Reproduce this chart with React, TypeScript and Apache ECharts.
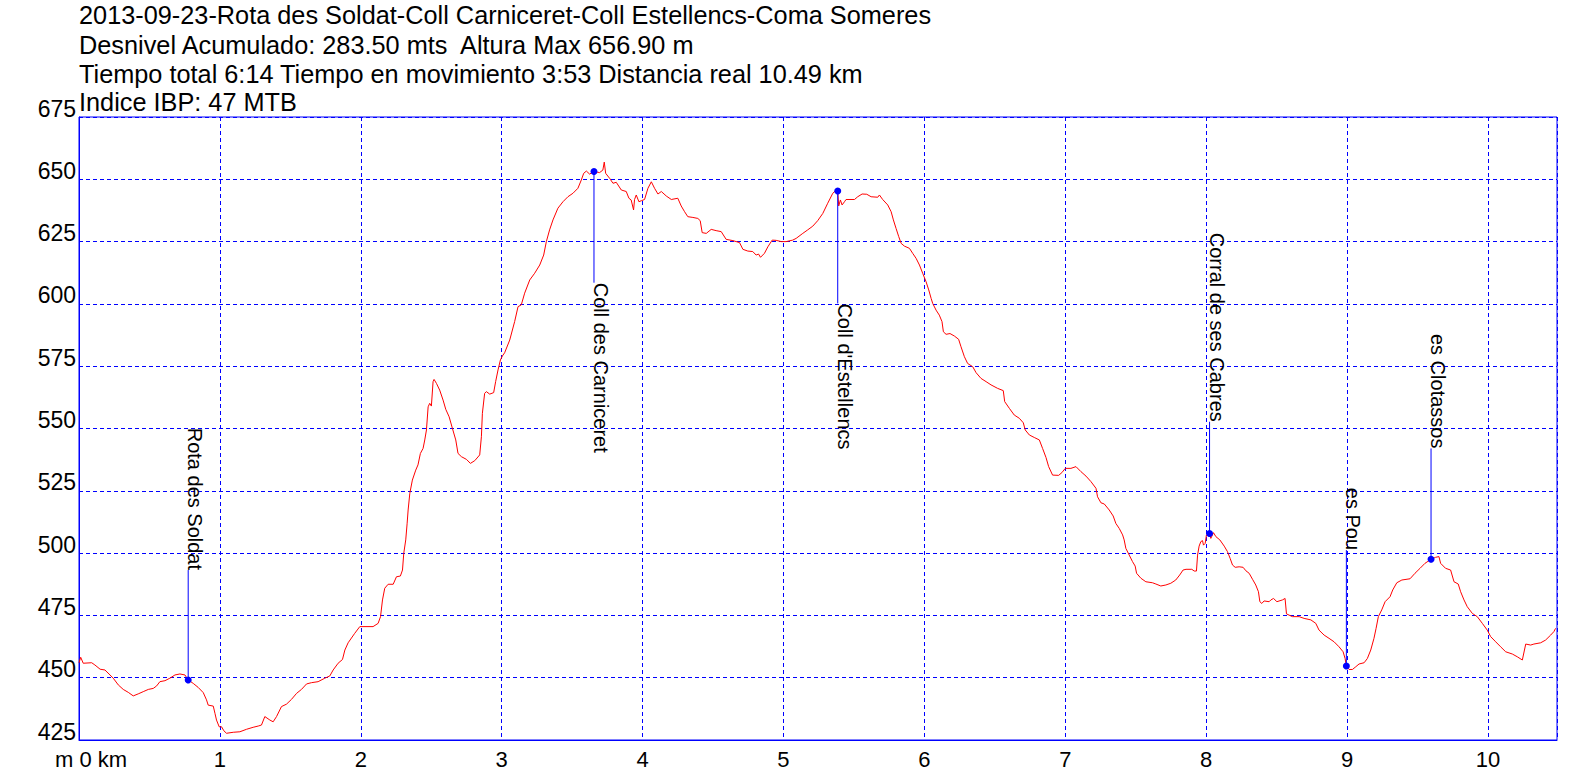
import React, { useEffect, useRef } from "react";
import * as echarts from "echarts";

const FONT = "'Liberation Sans', Arial, sans-serif";

const titleLines = [
  "2013-09-23-Rota des Soldat-Coll Carniceret-Coll Estellencs-Coma Someres",
  "Desnivel Acumulado: 283.50 mts  Altura Max 656.90 m",
  "Tiempo total 6:14 Tiempo en movimiento 3:53 Distancia real 10.49 km",
  "Indice IBP: 47 MTB",
];

// distance (km)
const distKm = [
  0, 0.012, 0.03, 0.09, 0.113, 0.15, 0.184, 0.22, 0.243, 0.279, 0.314, 0.35, 0.385, 0.42, 0.456, 0.492, 0.527, 0.551, 0.574, 0.61,
  0.645, 0.681, 0.716, 0.752, 0.775, 0.811, 0.846, 0.882, 0.905, 0.917, 0.953, 0.965, 0.976, 0.995, 1.012, 1.028, 1.047, 1.095, 1.142, 1.189,
  1.236, 1.272, 1.295, 1.319, 1.355, 1.378, 1.402, 1.437, 1.473, 1.508, 1.544, 1.579, 1.615, 1.65, 1.697, 1.745, 1.78, 1.804, 1.839, 1.87,
  1.887, 1.91, 1.957, 1.993, 2.087, 2.123, 2.14, 2.154, 2.17, 2.194, 2.23, 2.253, 2.281, 2.296, 2.305, 2.319, 2.329, 2.336, 2.348, 2.366,
  2.39, 2.406, 2.423, 2.442, 2.454, 2.466, 2.478, 2.489, 2.501, 2.513, 2.52, 2.537, 2.56, 2.584, 2.603, 2.627, 2.65, 2.674, 2.69, 2.714,
  2.75, 2.778, 2.809, 2.844, 2.856, 2.863, 2.879, 2.891, 2.915, 2.943, 2.957, 2.974, 2.991, 3.005, 3.021, 3.057, 3.092, 3.116, 3.139, 3.163,
  3.199, 3.234, 3.27, 3.298, 3.317, 3.34, 3.364, 3.399, 3.435, 3.47, 3.506, 3.541, 3.565, 3.582, 3.601, 3.624, 3.655, 3.695, 3.718, 3.728,
  3.738, 3.766, 3.79, 3.813, 3.849, 3.884, 3.903, 3.919, 3.936, 3.943, 3.955, 3.974, 3.991, 4.014, 4.038, 4.062, 4.085, 4.109, 4.133, 4.168,
  4.204, 4.25, 4.274, 4.298, 4.321, 4.357, 4.392, 4.409, 4.423, 4.452, 4.487, 4.522, 4.558, 4.593, 4.641, 4.688, 4.712, 4.747, 4.782, 4.806,
  4.823, 4.837, 4.865, 4.889, 4.92, 4.948, 4.984, 5.019, 5.066, 5.09, 5.137, 5.172, 5.208, 5.243, 5.279, 5.314, 5.35, 5.369, 5.385, 5.392,
  5.404, 5.416, 5.433, 5.444, 5.504, 5.527, 5.558, 5.591, 5.622, 5.669, 5.681, 5.704, 5.74, 5.764, 5.78, 5.799, 5.818, 5.835, 5.858, 5.894,
  5.917, 5.941, 5.965, 5.988, 6.012, 6.031, 6.048, 6.059, 6.083, 6.106, 6.125, 6.135, 6.154, 6.182, 6.213, 6.243, 6.26, 6.284, 6.307, 6.343,
  6.367, 6.402, 6.438, 6.473, 6.52, 6.56, 6.57, 6.603, 6.638, 6.674, 6.702, 6.716, 6.745, 6.78, 6.816, 6.839, 6.863, 6.882, 6.91, 6.953,
  6.976, 7.0, 7.04, 7.076, 7.111, 7.147, 7.182, 7.218, 7.229, 7.253, 7.277, 7.312, 7.34, 7.359, 7.383, 7.407, 7.418, 7.43, 7.454, 7.477,
  7.496, 7.506, 7.537, 7.572, 7.619, 7.643, 7.678, 7.714, 7.749, 7.784, 7.812, 7.836, 7.857, 7.898, 7.915, 7.931, 7.939, 7.95, 7.962, 7.974,
  7.981, 7.993, 8.002, 8.024, 8.033, 8.052, 8.069, 8.097, 8.128, 8.151, 8.17, 8.187, 8.206, 8.234, 8.262, 8.282, 8.305, 8.329, 8.352, 8.371,
  8.381, 8.395, 8.411, 8.447, 8.459, 8.478, 8.502, 8.541, 8.56, 8.57, 8.612, 8.66, 8.695, 8.743, 8.778, 8.801, 8.837, 8.872, 8.908, 8.943,
  8.972, 8.986, 8.995, 9.014, 9.038, 9.062, 9.085, 9.121, 9.144, 9.168, 9.191, 9.206, 9.222, 9.246, 9.27, 9.305, 9.324, 9.353, 9.389, 9.447,
  9.482, 9.518, 9.553, 9.596, 9.628, 9.652, 9.664, 9.699, 9.735, 9.759, 9.789, 9.806, 9.83, 9.853, 9.889, 9.924, 9.96, 9.995, 10.019, 10.055,
  10.09, 10.126, 10.173, 10.208, 10.244, 10.268, 10.303, 10.326, 10.374, 10.409, 10.445, 10.468, 10.48,
];

// altitude (m)
const altitudeM = [
  456, 458.2, 455.8, 456, 455.1, 453.4, 453.1, 451.1, 449.8, 447.1, 445.3, 444.1, 442.7, 443.5, 444.4, 445.3, 445.7, 446.7, 448.4, 448.8,
  449.8, 451.1, 451.5, 451.1, 449.1, 447.7, 446.1, 444, 441.1, 439, 438.6, 435.7, 433, 430.3, 430.3, 428.7, 427.7, 428.1, 428.3, 429.3,
  430.1, 430.6, 431, 434.4, 433, 432.3, 434.4, 438.4, 439.4, 441.3, 443.7, 445.3, 447.5, 448, 448.4, 449.8, 450.7, 453.1, 455.8, 457.3,
  461.1, 464, 467.8, 470.5, 470.5, 471.8, 474.5, 481.2, 485.9, 487.5, 487.5, 490.5, 490.8, 493.2, 499.9, 505.3, 512, 517.3, 524, 529.3,
  533.3, 535.4, 540, 542, 545.4, 549.4, 558.7, 560.1, 559, 568.8, 569.7, 568.1, 565.4, 561.4, 557.7, 554.7, 550.1, 545.4, 540, 538.7,
  537.6, 536, 537.1, 539.4, 546.7, 556.1, 564.1, 564.8, 563.8, 564.4, 568.8, 573.5, 577.5, 579.1, 580.4, 585.5, 592.9, 598.9, 599.6, 604.3,
  609.6, 612.3, 615.6, 619.6, 625, 629.7, 633.7, 638.4, 641, 643, 644.4, 646.4, 649.7, 652.4, 653.3, 652.1, 653.1, 652.7, 653.7, 656.9,
  652.4, 650.4, 648.4, 648.8, 645.7, 645.1, 642.4, 641.7, 637.7, 641.9, 643.7, 641, 641.4, 641.9, 646.4, 649, 646.4, 644.1, 645.1, 643.3,
  641.9, 642.4, 639.3, 637, 635, 634.7, 634.3, 633.4, 628.6, 628.3, 629.9, 629.4, 629, 625.9, 625.4, 624.6, 621.9, 621.2, 621, 619.6,
  620, 618.7, 620.3, 622.9, 625.6, 625.5, 625, 625, 625.6, 626.3, 628.3, 629.7, 631.2, 633.4, 636.3, 640.4, 644.4, 645.4, 645.3, 639.3,
  641.7, 639.7, 641, 641.9, 641.9, 643, 644.1, 644, 643, 642.8, 643.7, 641.9, 639.7, 637, 633.7, 630.3, 627, 624.3, 623.2, 622.3,
  620.3, 618.3, 615.6, 612.3, 608.9, 605.6, 602.2, 600.2, 597.5, 595.5, 592.9, 588.8, 587.8, 588.1, 587.1, 585.8, 582.8, 578.8, 576.1, 574.8,
  572.4, 570.1, 568.8, 567.5, 566.1, 565.2, 560.8, 558.1, 555.4, 554.1, 552.3, 549.4, 547.4, 546.4, 545.4, 542, 538.4, 534.7, 531.3, 531.2,
  532.3, 534, 534, 534.7, 532.7, 530.9, 528.7, 526, 522.6, 520.2, 519.7, 517.3, 514.9, 511.9, 509.9, 507.3, 505.3, 501.9, 499.2, 496.6,
  494.8, 491.9, 489.9, 488.5, 488.1, 487.6, 486.8, 487.2, 487.9, 489.2, 491.2, 493.2, 493.5, 493.5, 492.8, 492.8, 499.2, 502.8, 504.6, 505,
  503.2, 503.9, 507.3, 507.9, 505.9, 508.2, 506.6, 505.3, 502.8, 500.6, 497.9, 495.2, 494.3, 494.5, 494.3, 492.9, 491.9, 489.5, 487.2, 484.5,
  480.5, 479.8, 480.8, 480.5, 481.2, 481.8, 480.5, 481.2, 481.8, 475.6, 474.5, 474.5, 473.8, 473.2, 471.8, 469.1, 467.1, 465.8, 464.4, 462.4,
  460.4, 457.7, 454.7, 453.3, 453.3, 454.4, 455.5, 456, 457.7, 461.1, 465.8, 469.8, 474.5, 477.2, 480.5, 482.5, 485.2, 488.1, 489.2, 489.7,
  491.9, 493.9, 495.9, 497.5, 498.3, 498.6, 495.9, 493.9, 493.2, 488.5, 487.6, 484.5, 481.2, 478.5, 475.8, 474.5, 471.8, 469.1, 466.5, 464.4,
  462.4, 460.4, 459.5, 458.4, 457.1, 463.5, 463.1, 463.5, 464, 465.1, 467.1, 468.5, 469.8,
];

// waypoints
const wpNames = ["Rota des Soldat", "Coll des Carniceret", "Coll d'Estellencs", "Corral de ses Cabres", "es Pou", "es Clotassos"];
const wpKm = [0.775, 3.655, 5.385, 8.024, 8.995, 9.596];
const wpAlt = [449.1, 653.1, 645.3, 507.9, 454.7, 497.5];
const wpLabelAlt = [493.2, 608.5, 600.2, 552.7, 501.2, 542];

const yTicks = { min: 425, max: 675, interval: 25 };
const xTicks = { min: 0, max: 10.49, interval: 1 };
const originLabel = "m 0 km";

export default function App() {
  const ref = useRef<HTMLDivElement>(null);

  useEffect(() => {
    if (!ref.current) return;
    const chart = echarts.init(ref.current, null, { renderer: "svg" });
    const blue = "#0000ff";

    const option: any = {
      animation: false,
      backgroundColor: "#ffffff",
      textStyle: { fontFamily: FONT },
      grid: {
        left: 79,
        top: 117,
        right: 39,
        bottom: 38,
        show: true,
        borderColor: blue,
        borderWidth: 1,
        backgroundColor: "transparent",
      },
      graphic: [
        ...titleLines.map((t, i) => ({
          type: "text",
          x: 79,
          y: [15.3, 44.8, 74.3, 101.8][i],
          style: { text: t, fontSize: 25.3, fontFamily: FONT, fill: "#000", align: "left", verticalAlign: "middle" },
          z: 10,
        })),
        {
          type: "text",
          x: 55,
          y: 759.5,
          style: { text: originLabel, fontSize: 22, fontFamily: FONT, fill: "#000", align: "left", verticalAlign: "middle" },
          z: 10,
        },
      ],
      xAxis: {
        type: "value",
        min: xTicks.min,
        max: xTicks.max,
        interval: xTicks.interval,
        axisLine: { show: true, lineStyle: { color: blue, width: 1 } },
        axisTick: { show: false },
        axisLabel: {
          color: "#000",
          fontSize: 22,
          fontFamily: FONT,
          margin: 8,
          lineHeight: 22,
          showMaxLabel: false,
          formatter: (v: number) =>
            v > 0.5 && Math.abs(v - Math.round(v)) < 1e-6 ? String(Math.round(v)) : "",
        },
        splitLine: { show: true, lineStyle: { color: blue, type: [4, 3], width: 1 } },
      },
      yAxis: {
        type: "value",
        min: yTicks.min,
        max: yTicks.max,
        interval: yTicks.interval,
        axisLine: { show: true, lineStyle: { color: blue, width: 1 } },
        axisTick: { show: false },
        axisLabel: {
          color: "#000",
          fontSize: 23,
          fontFamily: FONT,
          margin: 3,
          verticalAlign: "bottom",
          lineHeight: 17,
        },
        splitLine: { show: true, lineStyle: { color: blue, type: [4, 3], width: 1 } },
      },
      series: [
        {
          type: "line",
          data: distKm.map((k, i) => [k, altitudeM[i]]),
          showSymbol: false,
          symbol: "none",
          lineStyle: { color: "#ff0000", width: 1 },
          z: 3,
        },
        {
          type: "custom",
          clip: false,
          z: 4,
          encode: { x: 0, y: 1 },
          data: wpNames.map((_, i) => [wpKm[i], wpAlt[i], wpLabelAlt[i], i]),
          renderItem: (params: any, api: any) => {
            const x = api.value(0);
            const y = api.value(1);
            const e = api.value(2);
            const idx = api.value(3);
            const p = api.coord([x, y]);
            const q = api.coord([x, e]);
            const up = e > y;
            return {
              type: "group",
              children: [
                {
                  type: "line",
                  shape: { x1: p[0], y1: p[1], x2: q[0], y2: q[1] },
                  style: { stroke: blue, lineWidth: 1 },
                },
                {
                  type: "circle",
                  shape: { cx: p[0], cy: p[1], r: 3.5 },
                  style: { fill: blue },
                },
                {
                  type: "text",
                  x: q[0] - 3,
                  y: q[1],
                  rotation: -Math.PI / 2,
                  style: {
                    text: wpNames[idx],
                    fontSize: 20,
                    fontFamily: FONT,
                    fill: "#000",
                    align: up ? "right" : "left",
                    verticalAlign: "bottom",
                  },
                },
              ],
            };
          },
        },
      ],
    };

    chart.setOption(option);
    return () => chart.dispose();
  }, []);

  return (
    <div
      ref={ref}
      style={{ position: "absolute", left: 0, top: 0, width: 1596, height: 778, background: "#fff" }}
    />
  );
}
